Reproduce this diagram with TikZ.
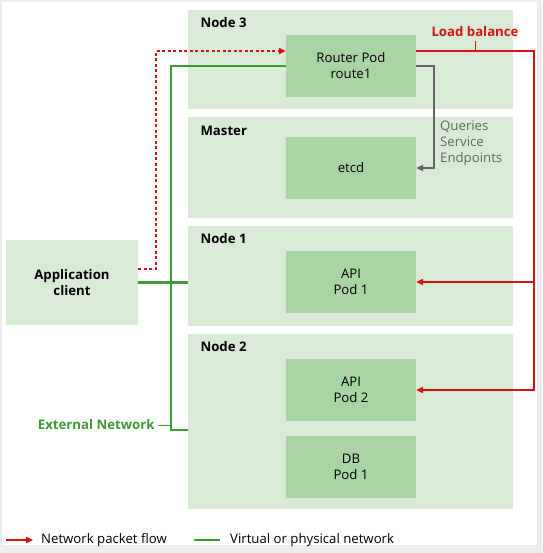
\documentclass[tikz,border=0pt]{standalone}
\usepackage{fontspec}
\setmainfont{Open Sans}
\usetikzlibrary{arrows.meta}
\definecolor{hostfill}{RGB}{217,235,214}
\definecolor{podfill}{RGB}{169,212,163}
\definecolor{netgreen}{RGB}{63,156,53}
\definecolor{flowred}{RGB}{212,20,20}
\definecolor{querygray}{RGB}{100,100,100}
\begin{document}
\begin{tikzpicture}[
        x = 1pt, y = -1pt,
        font = \fontsize{13.2}{16}\selectfont,
        host/.style = {fill = hostfill, minimum width = 325pt, inner sep = 0pt},
        pod/.style = {fill = podfill, minimum width = 130pt, minimum height = 62pt,
            inner sep = 0pt, align = center},
        hostlabel/.style = {anchor = west, font = \fontsize{13.2}{16}\selectfont\bfseries},
        flow/.style = {flowred, line width = 1.2pt, -{Triangle[length = 7pt, width = 6.5pt]}},
        net/.style = {netgreen, line width = 2.8pt},
        query/.style = {querygray, line width = 1.3pt, -{Triangle[length = 7pt, width = 6.5pt]}}
    ]
    \fill[black!7] (0, 0) rectangle (542, 553);
    \fill[white] (2, 2) rectangle (537, 545);
    \path
        (350.5, 59.5) node[host, minimum height = 99pt] (node3) {}
        (350.5, 167.5) node[host, minimum height = 101pt] (master) {}
        (350.5, 276) node[host, minimum height = 100pt] (node1) {}
        (350.5, 421.5) node[host, minimum height = 175pt] (node2) {}
        (197, 23) node[hostlabel] {Node 3}
        (197, 131) node[hostlabel] {Master}
        (197, 239) node[hostlabel] {Node 1}
        (197, 347) node[hostlabel] {Node 2}
        (351, 66) node[pod] (router) {Router Pod\\route1}
        (351, 168) node[pod] (etcd) {etcd}
        (351, 282) node[pod] (api1) {API\\Pod 1}
        (351, 390) node[pod] (api2) {API\\Pod 2}
        (351, 467) node[pod] (db) {DB\\Pod 1}
        (72, 282.5) node[fill = hostfill, minimum width = 132pt, minimum height = 85pt,
            align = center, font = \fontsize{13.2}{16}\selectfont\bfseries] (app) {Application\\client}
        (475, 32) node[flowred, font = \fontsize{13.2}{16}\selectfont\bfseries] (lb) {Load balance}
        (158, 425) node[anchor = east, netgreen, font = \fontsize{13.2}{16}\selectfont\bfseries] (ext) {External Network}
        (440, 121) node[anchor = north west, querygray, align = left, inner sep = 0pt] (queries)
            {Queries\\Service\\Endpoints}
        (41, 540) node[anchor = west, inner sep = 0pt] (legflow) {Network packet flow}
        (230, 540) node[anchor = west, inner sep = 0pt] (legnet) {Virtual or physical network}
    ;
    \coordinate (dotx) at (156, 0);
    \coordinate (netx) at (171, 0);
    \coordinate (lbx) at (534, 0);
    \coordinate (qx) at (434, 0);
    \coordinate (dotout) at ([yshift = 13.5pt]app.east);
    \coordinate (dotin) at ([yshift = 15pt]router.west);
    \coordinate (lbout) at ([yshift = 15pt]router.east);
    \coordinate (extin) at (188, 430);
    \draw[net]
        (app.east) -- (node1.west |- app.east)
        (router.west) -| (netx |- extin) -- (extin)
    ;
    \draw[netgreen, line width = 0.6pt] (ext.east) -- (netx |- ext.east);
    \draw[flow, line width = 1.3pt, dash pattern = on 3pt off 2.5pt] (dotout) -| (dotx |- dotin) -- (dotin);
    \draw[flow] (lbout) -| (lbx |- api2.east) -- (api2.east);
    \draw[flow] (lbx |- api1.east) -- (api1.east);
    \draw[flowred, line width = 0.6pt] (lb.south) -- (lb.south |- lbout);
    \draw[query] (router.east) -| (qx |- etcd.east) -- (etcd.east);
    \draw[flow] ([xshift = -35pt]legflow.west) -- ([xshift = -8pt]legflow.west);
    \draw[net] ([xshift = -36pt]legnet.west) -- ([xshift = -10pt]legnet.west);
\end{tikzpicture}
\end{document}
